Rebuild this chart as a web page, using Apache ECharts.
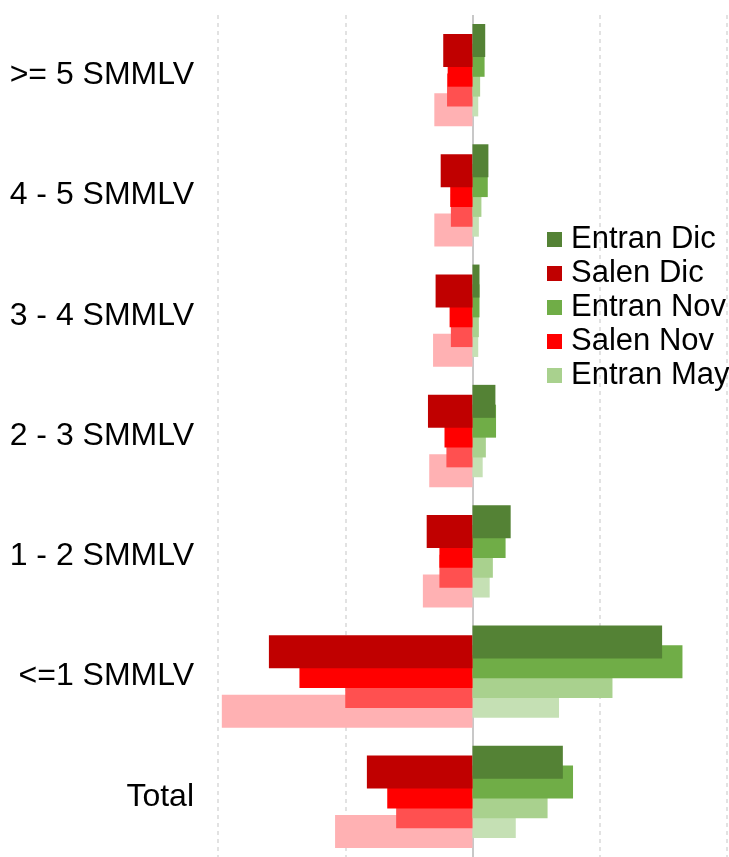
<!DOCTYPE html>
<html>
<head>
<meta charset="utf-8">
<script src="https://cdn.jsdelivr.net/npm/echarts@6/dist/echarts.min.js"></script>
<style>
  html, body { margin: 0; padding: 0; background: #fff; }
  #chart { width: 729px; height: 857px; }
</style>
</head>
<body>
<div id="chart"></div>
<script>
// categories, top to bottom
const categories = [">= 5 SMMLV", "4 - 5 SMMLV", "3 - 4 SMMLV", "2 - 3 SMMLV", "1 - 2 SMMLV", "<=1 SMMLV", "Total"]

// entradas (positive) and salidas (negative)
const entranDic = [10, 12.5, 5.5, 18, 30, 149, 71]
const salenDic = [-23, -25, -29, -35, -36, -160, -83]
const entranNov = [9.5, 12, 5.5, 18.5, 26, 165, 79]
const salenNov = [-19.5, -17.5, -18, -22, -26, -136, -67]
const entranMay = [6, 7, 5, 10.5, 16, 110, 59]
const salenMay = [-20, -17, -17, -20.5, -26, -100, -60]
const entranEne = [4.5, 5, 4.5, 8, 13.5, 68, 34]
const salenEne = [-30, -30, -31, -34, -39, -197, -108]

const seriesDefs = [
  { name: "Entran Dic", data: entranDic, color: "#548235" },
  { name: "Salen Dic", data: salenDic, color: "#c00000" },
  { name: "Entran Nov", data: entranNov, color: "#70ad47" },
  { name: "Salen Nov", data: salenNov, color: "#ff0000" },
  { name: "Entran May", data: entranMay, color: "#a9d18e" },
  { name: "Salen May", data: salenMay, color: "#ff5050" },
  { name: "Entran Ene", data: entranEne, color: "#c5e0b4" },
  { name: "Salen Ene", data: salenEne, color: "#ffb1b3" },
]

const font = '"Liberation Sans", Arial, sans-serif'

const chart = echarts.init(document.getElementById("chart"), null, { renderer: "canvas" })

const series = seriesDefs.map((s, i) => ({
  name: s.name,
  type: "bar",
  data: s.data,
  barWidth: 33,
  barGap: "-70%",
  z: 20 - i,
  itemStyle: { color: s.color },
  emphasis: { disabled: true },
}))

// solid zero line
series[0].markLine = {
  silent: true,
  symbol: "none",
  label: { show: false },
  lineStyle: { color: "#c8c8c8", type: "solid", width: 2 },
  data: [{ xAxis: 0 }],
}

chart.setOption({
  animation: false,
  textStyle: { fontFamily: font },
  grid: { left: 218, right: 2, top: 15, bottom: -4, containLabel: false },
  legend: {
    orient: "vertical",
    left: 542,
    top: 219,
    data: seriesDefs.slice(0, 5).map((s) => s.name),
    icon: "rect",
    itemWidth: 15,
    itemHeight: 15,
    itemGap: 3,
    textStyle: { fontSize: 31, color: "#000", fontFamily: font, padding: [0, 0, 0, 4] },
  },
  xAxis: {
    type: "value",
    min: -200,
    max: 200,
    interval: 100,
    axisLabel: { show: false },
    axisLine: { show: false },
    axisTick: { show: false },
    splitLine: { lineStyle: { color: "#d9d9d9", type: [4, 4], width: 1.5 } },
  },
  yAxis: {
    type: "category",
    data: categories,
    inverse: true,
    axisLine: { show: false },
    axisTick: { show: false },
    axisLabel: { fontSize: 32, color: "#000", margin: 24, fontFamily: font },
  },
  series,
})
</script>
</body>
</html>
